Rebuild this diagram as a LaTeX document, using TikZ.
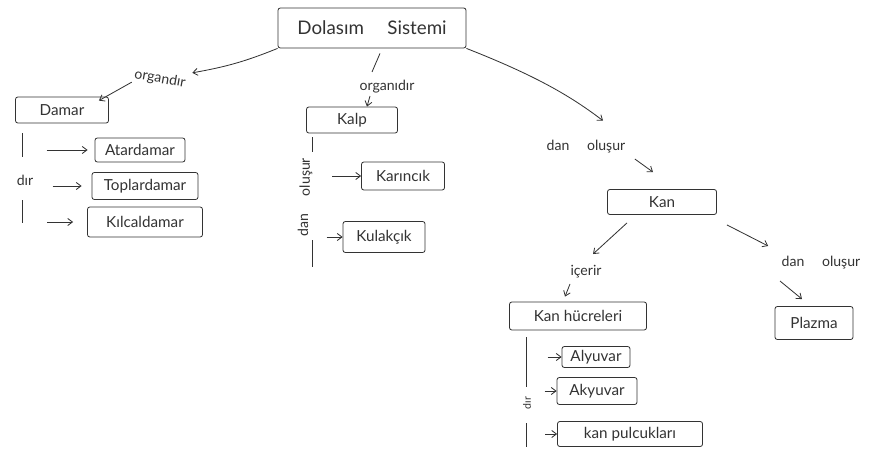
\documentclass[tikz,border=0pt]{standalone}
\usepackage{fontspec}
\setmainfont{Lato}
\usetikzlibrary{calc, arrows.meta, positioning}

\begin{document}
\begin{tikzpicture}[x=0.03cm, y=-0.03cm, color=black!80, line width=0.7pt,
    kavram/.style={draw, rounded corners=2pt, inner sep=0pt, font=\fontsize{13}{15}\selectfont},
    boyut/.style 2 args={minimum width=#1cm, minimum height=#2cm},
    etiket/.style={inner sep=1pt, font=\fontsize{12}{14}\selectfont},
    ok/.style={-{Straight Barb[length=4pt, width=6pt]}}]
  \fill[white] (0,0) rectangle (877,457);
  \useasboundingbox (0,0) rectangle (877,457);

  % kavramlar
  \node[kavram, boyut={5.64}{1.2}, font=\fontsize{16}{18}\selectfont] (sistem) at (372,28) {Dolasım \quad Sistemi};
  \node[kavram, boyut={2.79}{0.78}] (damar) at (62,110) {Damar};
  \node[kavram, boyut={2.7}{0.72}] (atar) at (140,150) {Atardamar};
  \node[kavram, boyut={3.18}{0.81}] (toplar) at (145,186) {Toplardamar};
  \node[kavram, boyut={3.45}{0.9}] (kilcal) at (145,222) {Kılcaldamar};
  \node[kavram, boyut={2.73}{0.78}] (kalp) at (352,120) {Kalp};
  \node[kavram, boyut={2.49}{0.84}] (karincik) at (403,176) {Karıncık};
  \node[kavram, boyut={2.46}{0.93}] (kulakcik) at (384,237) {Kulakçık};
  \node[kavram, boyut={3.27}{0.75}] (kan) at (662,202) {Kan};
  \node[kavram, boyut={4.11}{0.84}] (hucre) at (578,316) {Kan hücreleri};
  \node[kavram, boyut={2.34}{0.99}] (plazma) at (814,323) {Plazma};
  \node[kavram, boyut={2.04}{0.63}] (alyuvar) at (596,357) {Alyuvar};
  \node[kavram, boyut={2.4}{0.81}] (akyuvar) at (597,391) {Akyuvar};
  \node[kavram, boyut={4.35}{0.75}] (pulcuk) at (630,434) {kan pulcukları};

  % baglanti etiketleri
  \node[etiket, rotate=-10] (org1) at (160,79) {organdır};
  \node[etiket] (org2) at (387,87) {organıdır};
  \node[etiket] (olusur1) at (586,147) {dan \quad oluşur};
  \node[etiket] (icerir) at (586,272) {içerir};
  \node[etiket] (olusur2) at (821,263) {dan \quad oluşur};
  \node[etiket] (dir1) at (25,180) {dır};
  \node[etiket, rotate=90] (olusur3) at (306,177) {oluşur};
  \node[etiket, rotate=90] (dan3) at (303,225) {dan};
  \node[etiket, rotate=90, font=\fontsize{9}{10}\selectfont] (dir2) at (527,403) {dır};

  % oklar
  \draw[ok] (sistem.south west) to[bend left=6] ($(org1.north east)+(4,-3)$);
  \draw[ok] (org1.south west) -- ($(damar.north east)+(-10,4)$);
  \draw ($(sistem.south)+(8,5)$) -- ($(org2.north)+(-15,-7)$);
  \draw[ok] ($(org2.south)+(-17,1)$) -- ($(kalp.north)+(15,0)$);
  \draw[ok, shorten >=0.9cm] (sistem.south east) to[bend left=8] (olusur1.north east);
  \draw[ok] ($(olusur1.south east)+(8,4)$) -- ($(kan.north)+(-9,-17)$);
  \draw[ok] ($(kan.south)+(-35,8)$) -- ($(icerir.north)+(7,-10)$);
  \draw[ok] ($(icerir.south)+(-16,4)$) -- ($(hucre.north)+(-13,-5)$);
  \draw[ok] ($(kan.south east)+(10,10)$) -- ($(olusur2.north west)+(-12,-9)$);
  \draw[ok] ($(olusur2.south)+(-41,10)$) -- ($(plazma.north)+(-12,-7)$);

  % dallar
  \draw ($(damar.south west)+(7,10)$) -- ($(damar.south west)+(7,34)$);
  \draw ($(damar.south west)+(7,77)$) -- ($(damar.south west)+(7,100)$);
  \draw ($(kalp.south west)+(6.5,4)$) -- ($(kalp.south west)+(6.5,19)$);
  \draw ($(kalp.south west)+(6.5,107)$) -- ($(kalp.south west)+(6.5,134)$);
  \draw ($(hucre.south west)+(17.5,7)$) -- ($(hucre.south west)+(17.5,57)$);
  \draw ($(hucre.south west)+(17.5,93)$) -- ($(hucre.south west)+(17.5,117)$);

  \draw[ok] ($(atar.west)+(-48,0)$) -- ($(atar.west)+(-7,0)$);
  \draw[ok] ($(toplar.west)+(-39,0)$) -- ($(toplar.west)+(-10,0)$);
  \draw[ok] ($(kilcal.west)+(-40,0)$) -- ($(kilcal.west)+(-14,0)$);
  \draw[ok] ($(karincik.west)+(-29,0)$) -- (karincik.west);
  \draw[ok] ($(kulakcik.west)+(-16,0)$) -- (kulakcik.west);
  \draw[ok] ($(alyuvar.west)+(-14,0)$) -- (alyuvar.west);
  \draw[ok] ($(akyuvar.west)+(-12,0)$) -- (akyuvar.west);
  \draw[ok] ($(pulcuk.west)+(-12,0)$) -- (pulcuk.west);
\end{tikzpicture}
\end{document}
